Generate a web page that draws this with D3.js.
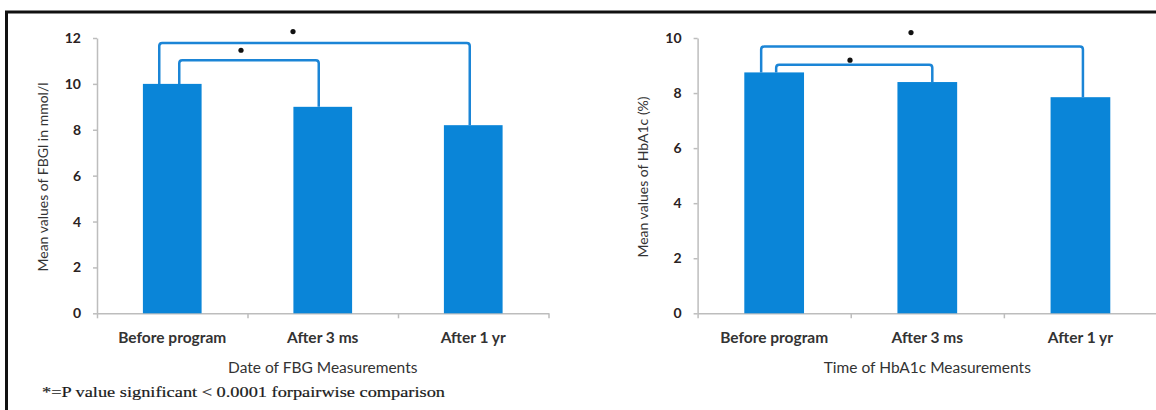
<!DOCTYPE html>
<html>
<head>
<meta charset="utf-8">
<script src="https://cdn.jsdelivr.net/npm/d3@7"></script>
<style>
  body { margin: 0; background: #fff; }
  svg { display: block; }
  .tick text { font-family: Lato, "Open Sans", sans-serif; }
</style>
</head>
<body>
<svg width="1156" height="410"></svg>
<script>
// data
var categories = ["Before program", "After 3 ms", "After 1 yr"];
var fbgValues = [10.0, 9.0, 8.2];
var hba1cValues = [8.75, 8.4, 7.85];
var fbgTicks = [0, 2, 4, 6, 8, 10, 12];
var hba1cTicks = [0, 2, 4, 6, 8, 10];
// pairwise comparisons: [from, to, bracket level]
var fbgPairs = [[0, 2, 11.78], [0, 1, 11.03]];
var hba1cPairs = [[0, 2, 9.69], [0, 1, 9.03]];
var footnote = "*=P  value significant < 0.0001 forpairwise comparison";

var svg = d3.select("svg");
var barColor = "#0a85d8";
var lineColor = "#1b85d6";

// frame
svg.append("line").attr("x1", 5).attr("x2", 1156).attr("y1", 12).attr("y2", 12)
    .attr("stroke", "#111").attr("stroke-width", 3);
svg.append("line").attr("x1", 6.5).attr("x2", 6.5).attr("y1", 11).attr("y2", 410)
    .attr("stroke", "#111").attr("stroke-width", 3);

function barChart(opt) {
    var g = svg.append("g");
    var x = d3.scaleBand().domain(categories).range([opt.left, opt.right])
        .paddingInner(0.61).paddingOuter(0.305);
    var y = d3.scaleLinear().domain([0, opt.max]).range([opt.bottom, opt.top]);
    var bounds = d3.scaleLinear().domain([0, categories.length]).range([opt.left, opt.right]);

    // y axis
    var ya = g.append("g").attr("transform", "translate(" + opt.left + ",0)")
        .call(d3.axisLeft(y).tickValues(opt.ticks).tickSize(4).tickPadding(12).tickSizeOuter(0));
    ya.select(".domain").attr("stroke", "#bdbdbd").attr("stroke-width", 1.5);
    ya.selectAll(".tick line").attr("stroke", "#bdbdbd").attr("stroke-width", 1.5);
    ya.selectAll(".tick text").attr("font-size", 14).attr("font-weight", "bold").attr("fill", "#2a2222");

    // x axis with category boundary ticks
    var xa = g.append("g").attr("transform", "translate(0," + opt.bottom + ")")
        .call(d3.axisBottom(bounds).ticks(categories.length).tickFormat("").tickSize(5).tickSizeOuter(0));
    xa.select(".domain").attr("stroke", "#bdbdbd").attr("stroke-width", 1.5);
    xa.selectAll(".tick line").attr("stroke", "#bdbdbd").attr("stroke-width", 1.5);

    // bars
    g.selectAll(".bar").data(opt.values).enter().append("rect")
        .attr("class", "bar")
        .attr("x", function (d, i) { return x(categories[i]); })
        .attr("y", function (d) { return y(d); })
        .attr("width", x.bandwidth())
        .attr("height", function (d) { return opt.bottom - y(d); })
        .attr("fill", barColor);

    // category labels
    g.selectAll(".cat").data(categories).enter().append("text")
        .attr("x", function (d) { return x(d) + x.bandwidth() / 2; })
        .attr("y", opt.bottom + 30)
        .attr("text-anchor", "middle")
        .attr("font-family", "Lato, sans-serif")
        .attr("font-size", 15.5)
        .attr("font-weight", "bold")
        .attr("fill", "#333")
        .text(function (d) { return d; });

    // x title
    g.append("text")
        .attr("x", (opt.left + opt.right) / 2)
        .attr("y", opt.bottom + 60)
        .attr("text-anchor", "middle")
        .attr("font-family", "Lato, sans-serif")
        .attr("font-size", 15.5)
        .attr("fill", "#333")
        .text(opt.xTitle);

    // y title
    g.append("text")
        .attr("transform", "translate(" + opt.yTitleX + "," + 177 + ") rotate(-90)")
        .attr("text-anchor", "middle")
        .attr("dominant-baseline", "central")
        .attr("font-family", "Lato, sans-serif")
        .attr("font-size", 14)
        .attr("fill", "#333")
        .text(opt.yTitle);

    // significance brackets
    var mid = function (i) { return x(categories[i]) + x.bandwidth() / 2; };
    opt.pairs.forEach(function (p, k) {
        var x0 = mid(p[0]) + opt.offsets[k][0];
        var x1 = mid(p[1]) + opt.offsets[k][1];
        var yl = y(p[2]);
        var r = 3;
        var path = d3.path();
        path.moveTo(x0, y(opt.values[p[0]]));
        path.lineTo(x0, yl + r);
        path.quadraticCurveTo(x0, yl, x0 + r, yl);
        path.lineTo(x1 - r, yl);
        path.quadraticCurveTo(x1, yl, x1, yl + r);
        path.lineTo(x1, y(opt.values[p[1]]));
        g.append("path").attr("d", path.toString())
            .attr("fill", "none")
            .attr("stroke", lineColor)
            .attr("stroke-width", 2.5);
        g.append("circle")
            .attr("cx", opt.stars[k][0])
            .attr("cy", yl - opt.stars[k][1])
            .attr("r", 2.6)
            .attr("fill", "#111");
    });
    return g;
}

barChart({
    left: 97, right: 548.5, top: 38, bottom: 313.3, max: 12,
    values: fbgValues, ticks: fbgTicks, pairs: fbgPairs,
    offsets: [[-13, -3.5], [7, -4]],
    stars: [[293, 11.5], [241, 10]],
    xTitle: "Date of FBG Measurements",
    yTitle: "Mean values of FBGl in mmol/l",
    yTitleX: 42
});

barChart({
    left: 697.6, right: 1157, top: 38, bottom: 313.3, max: 10,
    values: hba1cValues, ticks: hba1cTicks, pairs: hba1cPairs,
    offsets: [[-13, 2.5], [2, 5]],
    stars: [[911, 14], [850, 4.5]],
    xTitle: "Time of HbA1c Measurements",
    yTitle: "Mean values of HbA1c (%)",
    yTitleX: 642
});

// footnote
svg.append("text")
    .attr("x", 42)
    .attr("y", 397)
    .attr("font-family", "Liberation Serif, serif")
    .attr("font-size", 15.5)
    .attr("fill", "#1a1a1a")
    .attr("stroke", "#1a1a1a")
    .attr("stroke-width", 0.2)
    .attr("textLength", 403)
    .attr("lengthAdjust", "spacingAndGlyphs")
    .text(footnote);
</script>
</body>
</html>
